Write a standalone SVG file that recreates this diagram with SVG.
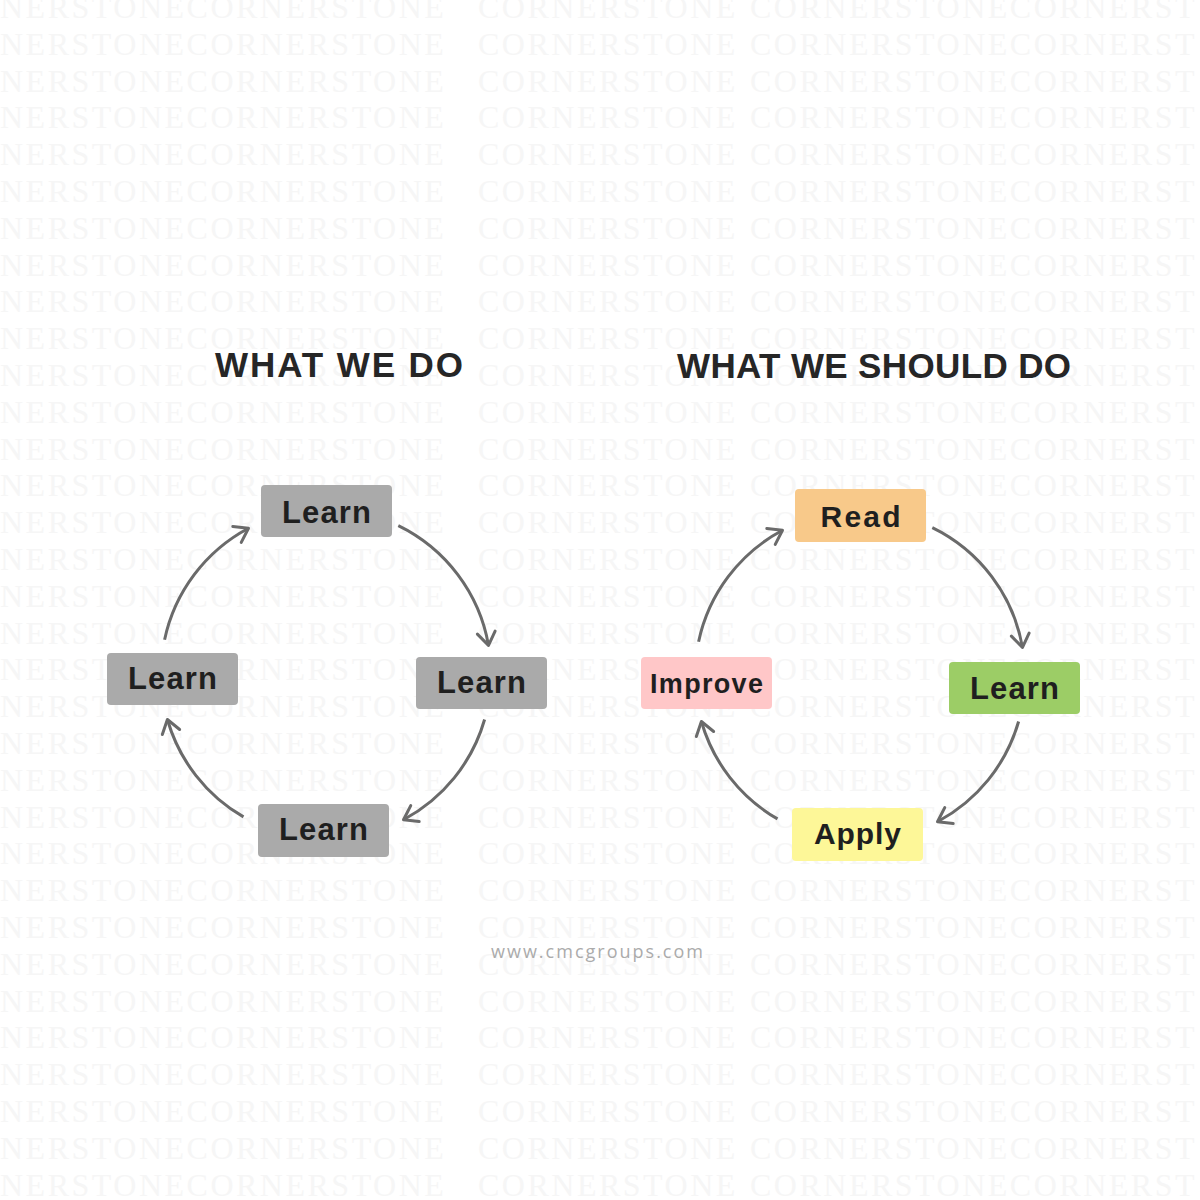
<svg xmlns="http://www.w3.org/2000/svg" xmlns:xlink="http://www.w3.org/1999/xlink" width="1200" height="1200" viewBox="0 0 1200 1200">
  <style>
    .wm { font-family: "Liberation Serif", serif; font-size: 32px; fill: #f6f6f6; letter-spacing: 2.5px; }
    .title { font-family: "Liberation Sans", Arial, sans-serif; font-weight: bold; font-size: 35px; fill: #262626; }
    .lbl { font-family: "Liberation Sans", Arial, sans-serif; font-weight: bold; fill: #1f1f1f; text-anchor: middle; }
    .gray { fill: #aaaaaa; }
    .conn { fill: none; stroke: #6a6a6a; stroke-width: 3; marker-end: url(#chev); }
    .foot { font-family: "Open Sans", sans-serif; font-size: 18px; fill: #ababab; }
  </style>
  <defs>
    <marker id="chev" markerUnits="userSpaceOnUse" markerWidth="30" markerHeight="30" refX="0" refY="0" viewBox="-16 -15 30 30" orient="auto" overflow="visible">
      <path d="M -13 -9 L 0 0 L -13 9" fill="none" stroke="#6a6a6a" stroke-width="3" stroke-linecap="round" stroke-linejoin="round"/>
    </marker>
    <g id="wmrow">
      <text class="wm" x="0">NERSTONECORNERSTONE</text>
      <text class="wm" x="478">CORNERSTONE</text>
      <text class="wm" x="750">CORNERSTONECORNERST</text>
    </g>
  </defs>
  <rect x="0" y="0" width="1200" height="1200" fill="#ffffff"/>
  <g id="watermark">
    <use href="#wmrow" y="18"/><use href="#wmrow" y="54.8"/><use href="#wmrow" y="91.6"/><use href="#wmrow" y="128.4"/>
    <use href="#wmrow" y="165.2"/><use href="#wmrow" y="202"/><use href="#wmrow" y="238.8"/><use href="#wmrow" y="275.6"/>
    <use href="#wmrow" y="312.4"/><use href="#wmrow" y="349.2"/><use href="#wmrow" y="386"/><use href="#wmrow" y="422.8"/>
    <use href="#wmrow" y="459.6"/><use href="#wmrow" y="496.4"/><use href="#wmrow" y="533.2"/><use href="#wmrow" y="570"/>
    <use href="#wmrow" y="606.8"/><use href="#wmrow" y="643.6"/><use href="#wmrow" y="680.4"/><use href="#wmrow" y="717.2"/>
    <use href="#wmrow" y="754"/><use href="#wmrow" y="790.8"/><use href="#wmrow" y="827.6"/><use href="#wmrow" y="864.4"/>
    <use href="#wmrow" y="901.2"/><use href="#wmrow" y="938"/><use href="#wmrow" y="974.8"/><use href="#wmrow" y="1011.6"/>
    <use href="#wmrow" y="1048.4"/><use href="#wmrow" y="1085.2"/><use href="#wmrow" y="1122"/><use href="#wmrow" y="1158.8"/>
    <use href="#wmrow" y="1195.6"/>
  </g>

  <g id="titles">
    <text class="title" x="215" y="377" textLength="248" lengthAdjust="spacing">WHAT WE DO</text>
    <text class="title" x="677" y="378" textLength="394" lengthAdjust="spacing">WHAT WE SHOULD DO</text>
  </g>

  <g id="connectors">
    <path class="conn" d="M 398.3 525.7 A 165 165 0 0 1 488.5 645.4"/>
    <path class="conn" d="M 484.6 719.5 A 165 165 0 0 1 403.5 819.7"/>
    <path class="conn" d="M 243.5 816.9 A 165 165 0 0 1 167.4 719.5"/>
    <path class="conn" d="M 164.6 639.7 A 165 165 0 0 1 248.5 528.3"/>
    <path class="conn" d="M 932.3 527.7 A 165 165 0 0 1 1022.5 647.4"/>
    <path class="conn" d="M 1018.6 721.5 A 165 165 0 0 1 937.5 821.7"/>
    <path class="conn" d="M 777.5 818.9 A 165 165 0 0 1 701.4 721.5"/>
    <path class="conn" d="M 698.6 641.7 A 165 165 0 0 1 782.5 530.3"/>
  </g>

  <g id="node-learn-top">
    <rect class="gray" x="261" y="485" width="131" height="52" rx="4"/>
    <text class="lbl" x="326.5" y="523" font-size="31" textLength="89" lengthAdjust="spacing">Learn</text>
  </g>
  <g id="node-learn-right">
    <rect class="gray" x="416" y="657" width="131" height="52" rx="4"/>
    <text class="lbl" x="481.5" y="693" font-size="31" textLength="89" lengthAdjust="spacing">Learn</text>
  </g>
  <g id="node-learn-bottom">
    <rect class="gray" x="258" y="804" width="131" height="53" rx="4"/>
    <text class="lbl" x="323.5" y="840" font-size="31" textLength="89" lengthAdjust="spacing">Learn</text>
  </g>
  <g id="node-learn-left">
    <rect class="gray" x="107" y="653" width="131" height="52" rx="4"/>
    <text class="lbl" x="172.5" y="688.5" font-size="31" textLength="89" lengthAdjust="spacing">Learn</text>
  </g>

  <g id="node-read">
    <rect x="795" y="489" width="131" height="53" rx="4" fill="#f8c98a"/>
    <text class="lbl" x="860.5" y="527" font-size="30" textLength="80" lengthAdjust="spacing">Read</text>
  </g>
  <g id="node-learn-green">
    <rect x="949" y="662" width="131" height="52" rx="4" fill="#9ccd66"/>
    <text class="lbl" x="1014.5" y="698.5" font-size="31" textLength="89" lengthAdjust="spacing">Learn</text>
  </g>
  <g id="node-apply">
    <rect x="792" y="808" width="131" height="53" rx="4" fill="#fdf798"/>
    <text class="lbl" x="857.5" y="843.5" font-size="30" textLength="87" lengthAdjust="spacing">Apply</text>
  </g>
  <g id="node-improve">
    <rect x="641" y="657" width="131" height="52" rx="4" fill="#ffc7c8"/>
    <text class="lbl" x="706.5" y="693" font-size="27" textLength="113" lengthAdjust="spacing">Improve</text>
  </g>

  <text class="foot" x="491" y="958" textLength="212" lengthAdjust="spacing">www.cmcgroups.com</text>
</svg>
